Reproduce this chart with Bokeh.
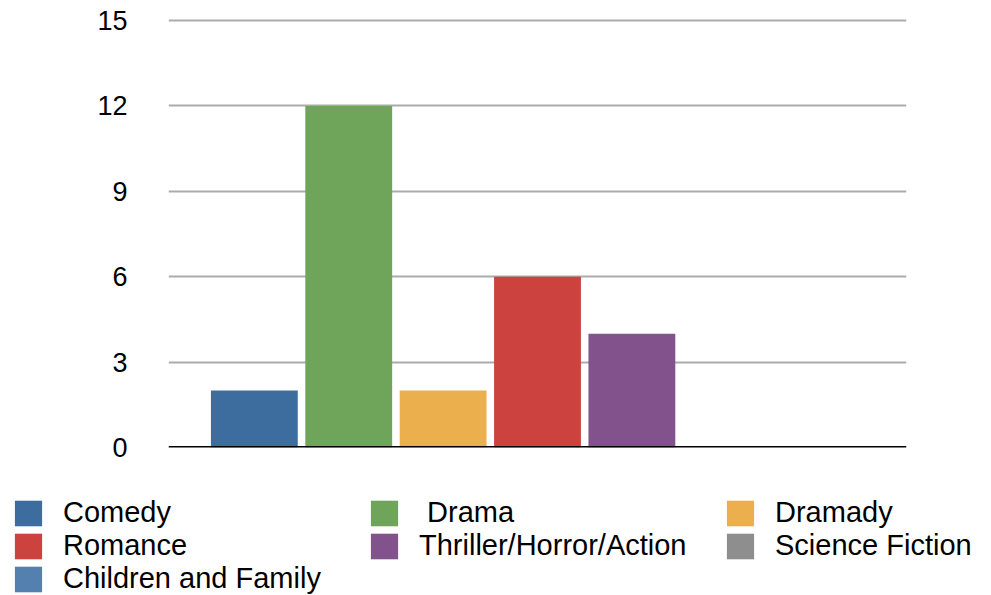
from bokeh.plotting import figure
from bokeh.layouts import column, row
from bokeh.models import ColumnDataSource, FactorRange, Range1d, FixedTicker, Legend, LegendItem, Span
from bokeh.embed import file_html
from bokeh.resources import INLINE

genres = ["Comedy", " Drama", "Dramady", "Romance", "Thriller/Horror/Action",
          "Science Fiction", "Children and Family"]
counts = [2, 12, 2, 6, 4, 0, 0]
colors = ["#3d6c9e", "#6fa55b", "#ecaf4d", "#cb423f", "#82528c", "#8e8e8e", "#5480b0"]
y_ticks = [0, 3, 6, 9, 12, 15]

source = ColumnDataSource(dict(genre=genres, count=counts, color=colors))

p = figure(width=991, height=490, output_backend="svg", toolbar_location=None,
           x_range=FactorRange(factors=genres, range_padding=0.117),
           y_range=Range1d(0, 15.07),
           min_border_left=168, min_border_right=85, min_border_top=18, min_border_bottom=43)
p.outline_line_color = None
p.background_fill_color = "white"
p.border_fill_color = "white"

r = p.vbar(x="genre", top="count", width=0.92, source=source, fill_color="color",
           line_color=None)

p.xaxis.visible = False
p.xgrid.grid_line_color = None
p.ygrid.grid_line_color = "#ababab"
p.ygrid.grid_line_width = 2
p.ygrid.ticker = FixedTicker(ticks=y_ticks)

ya = p.yaxis[0]
ya.ticker = FixedTicker(ticks=y_ticks)
ya.axis_line_color = None
ya.major_tick_line_color = None
ya.minor_tick_line_color = None
ya.major_tick_out = 0
ya.major_tick_in = 0
ya.major_label_standoff = 41
ya.major_label_text_font = "Liberation Sans"
ya.major_label_text_font_size = "27px"
ya.major_label_text_color = "black"

p.add_layout(Span(location=0, dimension="width", line_color="black", line_width=3))

# legend panel below the chart
lf = figure(width=991, height=105, output_backend="svg", toolbar_location=None,
            x_range=FactorRange(factors=genres), y_range=Range1d(0, 15),
            min_border_left=11, min_border_top=6, min_border_right=0, min_border_bottom=0)
lf.outline_line_color = None
lf.axis.visible = False
lf.grid.visible = False
lr = lf.vbar(x="genre", top="count", width=0.92, source=source, fill_color="color",
             line_color=None)
lr.visible = False

legend = Legend(items=[LegendItem(label=g, renderers=[lr], index=i) for i, g in enumerate(genres)],
                location="top_left", orientation="horizontal", ncols=3)
legend.label_text_font = "Liberation Sans"
legend.label_text_font_size = "29px"
legend.label_text_color = "black"
legend.glyph_width = 34
legend.glyph_height = 32
legend.label_height = 32
legend.label_width = 304
legend.label_standoff = 18
legend.spacing = 0
legend.padding = 0
legend.margin = 0
legend.border_line_color = None
legend.background_fill_alpha = 0
legend.inactive_fill_alpha = 0
lf.add_layout(legend, "center")

layout = column(p, row(lf), spacing=0)
open("out.html", "w").write(file_html(layout, INLINE))
